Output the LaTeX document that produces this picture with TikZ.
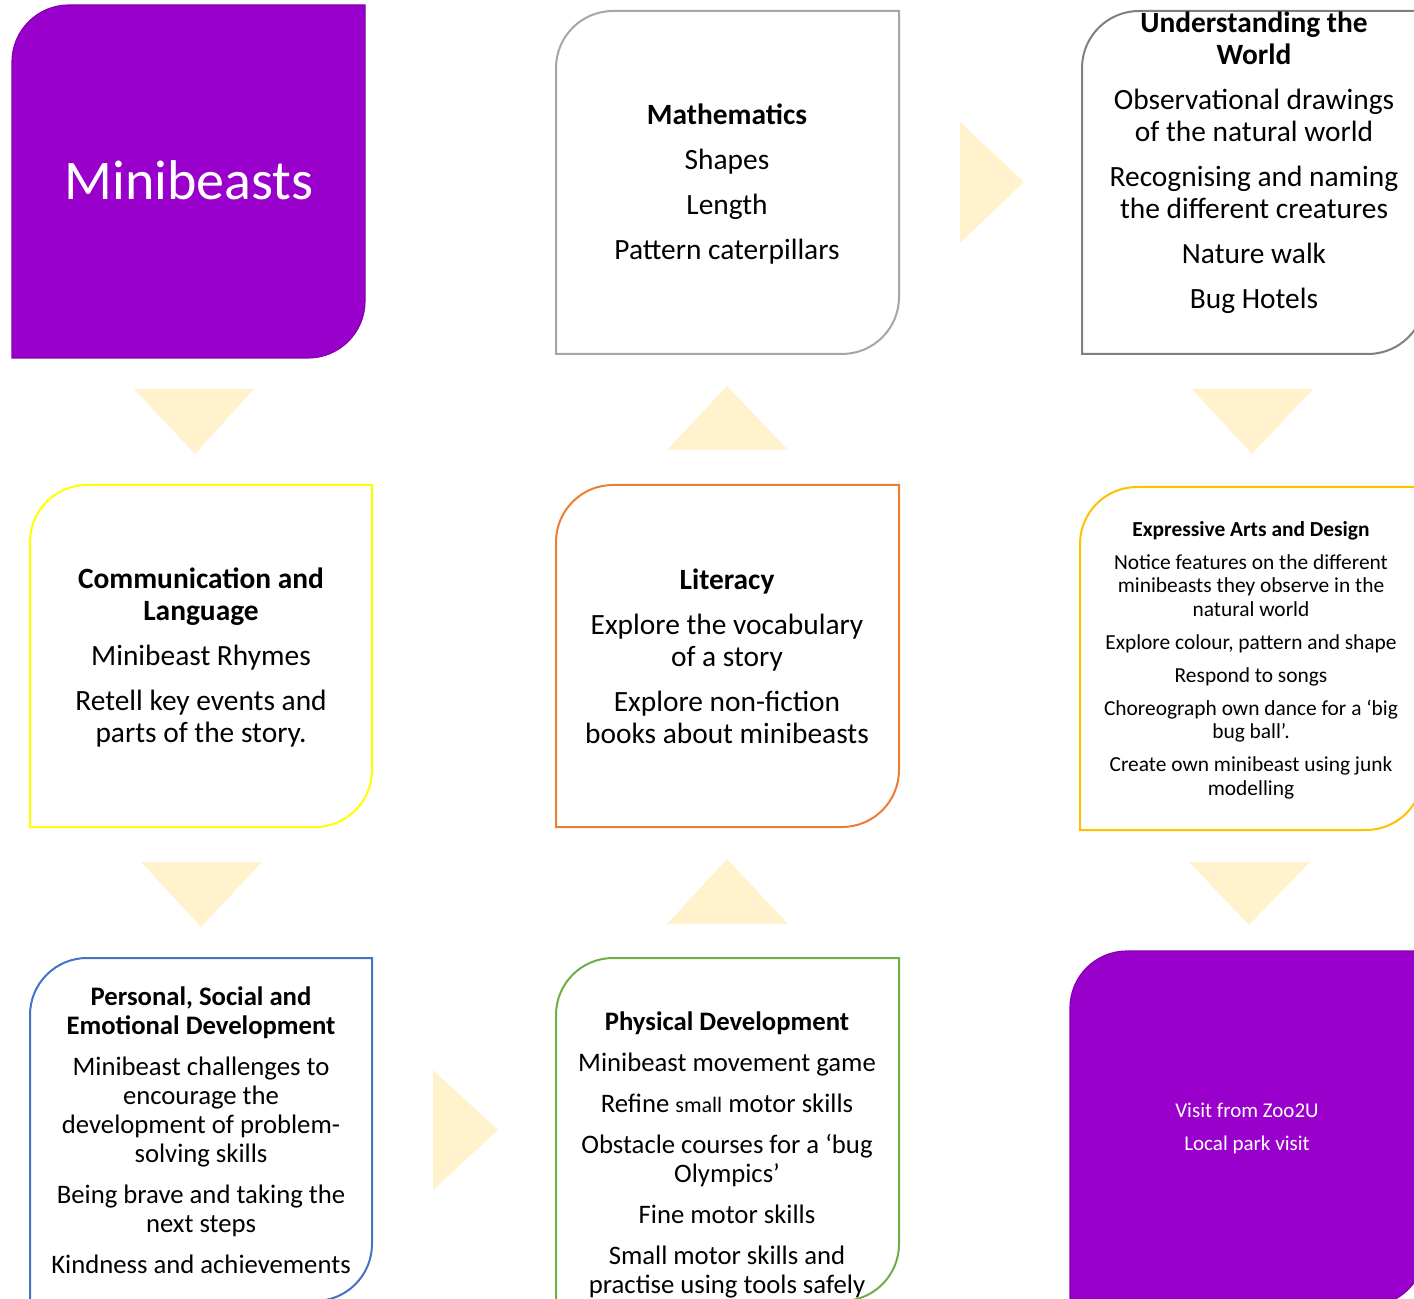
\documentclass[tikz,border=0pt]{standalone}
\usepackage{fontspec}
\setmainfont{Carlito}
\definecolor{Grape}{HTML}{9900CC}
\definecolor{Cream}{HTML}{FFF2CC}
\definecolor{Ash}{HTML}{A6A6A6}
\definecolor{Slate}{HTML}{7F7F7F}
\definecolor{Lemon}{HTML}{FFFF00}
\definecolor{Tangerine}{HTML}{ED7D31}
\definecolor{Amber}{HTML}{FFC000}
\definecolor{Ocean}{HTML}{4472C4}
\definecolor{Leaf}{HTML}{70AD47}
\tikzset{
    topicbox/.style={line width=1pt},
    grapebox/.style={fill=Grape, draw=Grape!85!black, line width=0.6pt},
    pointer/.style={fill=Cream},
    bodytext/.style={align=center, inner sep=0pt, text=black, font=\fontsize{14.7}{16}\selectfont},
    midtext/.style={bodytext, font=\fontsize{13.35}{14.5}\selectfont},
    smalltext/.style={bodytext, font=\fontsize{10.7}{11.75}\selectfont},
}
% leaf shaped box: options, left, top, right, bottom (pixels, y downwards)
\def\leafr{57}
\newcommand{\leafbox}[5]{%
    \draw[#1] (#4,-#3) -- (#4,-#5+\leafr) arc[start angle=0, end angle=-90, radius=\leafr]
        -- (#2,-#5) -- (#2,-#3-\leafr) arc[start angle=180, end angle=90, radius=\leafr] -- cycle;}

\begin{document}
\begin{tikzpicture}[x=0.5pt, y=0.5pt]
    \useasboundingbox (0,0) rectangle (1414,-1299);

    % Riquadri
    \leafbox{grapebox}{12}{5}{365}{358}
    \leafbox{topicbox, draw=Ash}{556}{11}{899}{354}
    \leafbox{topicbox, draw=Slate}{1082}{11}{1425}{354}
    \leafbox{topicbox, draw=Lemon}{30}{485}{372}{827}
    \leafbox{topicbox, draw=Tangerine}{556}{485}{899}{827}
    \leafbox{topicbox, draw=Amber}{1080}{487}{1423}{830}
    \leafbox{topicbox, draw=Ocean}{30}{958}{372}{1301}
    \leafbox{topicbox, draw=Leaf}{556}{958}{899}{1301}
    \leafbox{grapebox}{1070}{951}{1425}{1306}

    % Frecce a triangolo
    \fill[pointer] (134,-389) -- (254,-389) -- (195,-454) -- cycle;
    \fill[pointer] (141,-862) -- (262,-862) -- (201,-927) -- cycle;
    \fill[pointer] (433,-1070) -- (433,-1190) -- (498,-1130) -- cycle;
    \fill[pointer] (667,-924) -- (788,-924) -- (727,-859) -- cycle;
    \fill[pointer] (667,-450) -- (788,-450) -- (727,-386) -- cycle;
    \fill[pointer] (960,-122) -- (960,-243) -- (1024,-182) -- cycle;
    \fill[pointer] (1192,-389) -- (1313,-389) -- (1252,-454) -- cycle;
    \fill[pointer] (1189,-862) -- (1310,-862) -- (1249,-925) -- cycle;

    % Testi
    \node[bodytext, text=white, font=\fontsize{28}{34}\selectfont] (mini) at (189,-180) {Minibeasts};
    \node[bodytext] (maths) at (727,-184) {\textbf{Mathematics}\\[6.5pt] Shapes\\[6.5pt] Length\\[6.5pt] Pattern caterpillars};
    \node[bodytext] (world) at (1254,-163) {\textbf{Understanding the}\\ \textbf{World}\\[6.5pt]
        Observational drawings\\ of the natural world\\[6.5pt]
        Recognising and naming\\ the different creatures\\[6.5pt]
        Nature walk\\[6.5pt] Bug Hotels};
    \node[bodytext] (comm) at (201,-658) {\textbf{Communication and}\\ \textbf{Language}\\[6.5pt]
        Minibeast Rhymes\\[6.5pt] Retell key events and\\ parts of the story.};
    \node[bodytext] (lit) at (727,-656.5) {\textbf{Literacy}\\[6.5pt]
        Explore the vocabulary\\ of a story\\[6.5pt] Explore non-fiction\\ books about minibeasts};
    \node[smalltext] (arts) at (1251,-660) {\textbf{Expressive Arts and Design}\\[4.75pt]
        Notice features on the different\\ minibeasts they observe in the\\ natural world\\[4.75pt]
        Explore colour, pattern and shape\\[4.75pt] Respond to songs\\[4.75pt]
        Choreograph own dance for a `big\\ bug ball'.\\[4.75pt]
        Create own minibeast using junk\\ modelling};
    \node[midtext] (psed) at (201,-1130) {\textbf{Personal, Social and}\\ \textbf{Emotional Development}\\[6pt]
        Minibeast challenges to\\ encourage the\\ development of problem-\\ solving skills\\[6pt]
        Being brave and taking the\\ next steps\\[6pt] Kindness and achievements};
    \node[midtext] (phys) at (727,-1155) {\textbf{Physical Development}\\[6pt]
        Minibeast movement game\\[6pt]
        Refine {\fontsize{11}{14.5}\selectfont small} motor skills\\[6pt]
        Obstacle courses for a `bug\\ Olympics'\\[6pt] Fine motor skills\\[6pt]
        Small motor skills and\\ practise using tools safely};
    \node[bodytext, text=white, font=\fontsize{10.5}{11.5}\selectfont] (visit) at (1247,-1128.5) {Visit from Zoo2U\\[5pt] Local park visit};
\end{tikzpicture}
\end{document}
